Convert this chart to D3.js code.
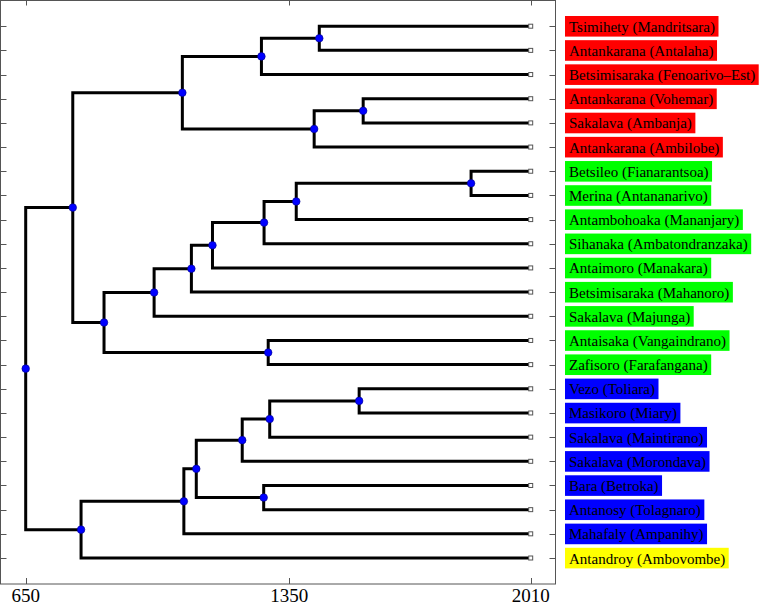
<!DOCTYPE html>
<html>
<head>
<meta charset="utf-8">
<script src="https://cdn.jsdelivr.net/npm/d3@7/dist/d3.min.js"></script>
<style>
  html, body { margin: 0; padding: 0; background: #fff; }
  svg { display: block; }
</style>
</head>
<body>
<div id="chart"></div>
<script>
// ---- DATA ----
const leaves = [
  "Tsimihety (Mandritsara)",
  "Antankarana (Antalaha)",
  "Betsimisaraka (Fenoarivo–Est)",
  "Antankarana (Vohemar)",
  "Sakalava (Ambanja)",
  "Antankarana (Ambilobe)",
  "Betsileo (Fianarantsoa)",
  "Merina (Antananarivo)",
  "Antambohoaka (Mananjary)",
  "Sihanaka (Ambatondranzaka)",
  "Antaimoro (Manakara)",
  "Betsimisaraka (Mahanoro)",
  "Sakalava (Majunga)",
  "Antaisaka (Vangaindrano)",
  "Zafisoro (Farafangana)",
  "Vezo (Toliara)",
  "Masikoro (Miary)",
  "Sakalava (Maintirano)",
  "Sakalava (Morondava)",
  "Bara (Betroka)",
  "Antanosy (Tolagnaro)",
  "Mahafaly (Ampanihy)",
  "Antandroy (Ambovombe)"
];
const leafGroups = ["N","N","N","N","N","N","C","C","C","C","C","C","C","C","C","S","S","S","S","S","S","S","X"];
const groupColors = { N: "#ff0000", C: "#00ff00", S: "#0000ff", X: "#ffff00" };
const leafYear = 2010;

// merges: [childA, childB, year]; leaves are 0..22, merged nodes numbered from 23 in order
const mergeA    = [0, 23, 3, 25, 24, 6, 28, 29, 30, 31, 32, 13, 33, 27, 15, 37, 38, 19, 39, 41, 42, 36];
const mergeB    = [1, 2, 4, 5, 26, 7, 8, 9, 10, 11, 12, 14, 34, 35, 16, 17, 18, 20, 40, 21, 22, 43];
const mergeYear = [1432, 1276, 1552, 1418, 1066, 1847, 1369, 1283, 1146, 1090, 991, 1294, 858, 775, 1541, 1298, 1225, 1282, 1103, 1070, 797, 650];

const xTicks = [650, 1350, 2010];

// ---- LAYOUT ----
const W = 760, H = 607;
const svg = d3.select("#chart").append("svg").attr("width", W).attr("height", H)
  .style("background", "#fff");

const frame = { left: 0.5, right: 555.5, top: 0.5, bottom: 584 };

const x = d3.scaleLinear().domain(xTicks).range([25.7, 289.3, 530.7]);
const y = d3.scalePoint().domain(d3.range(leaves.length)).range([26.2, 558]);

// node positions
const nodeX = [], nodeY = [];
leaves.forEach((d, i) => { nodeX[i] = x(leafYear); nodeY[i] = y(i); });
mergeA.forEach((a, k) => {
  const b = mergeB[k], id = leaves.length + k;
  nodeX[id] = x(mergeYear[k]);
  nodeY[id] = (nodeY[a] + nodeY[b]) / 2;
});

const axisColor = "#555";
const serif = "'Liberation Serif', 'Times New Roman', Times, serif";

// frame
svg.append("rect")
  .attr("x", frame.left).attr("y", frame.top)
  .attr("width", frame.right - frame.left).attr("height", frame.bottom - frame.top)
  .attr("fill", "none").attr("stroke", axisColor).attr("stroke-width", 1);

// x ticks top & bottom
const tickG = svg.append("g").attr("stroke", axisColor).attr("stroke-width", 1);
xTicks.forEach(t => {
  const xx = Math.round(x(t)) + 0.5;
  tickG.append("line").attr("x1", xx).attr("x2", xx).attr("y1", frame.top).attr("y2", frame.top + 5);
  tickG.append("line").attr("x1", xx).attr("x2", xx).attr("y1", frame.bottom).attr("y2", frame.bottom - 6);
});
// y ticks left & right
leaves.forEach((d, i) => {
  const yy = Math.round(y(i)) + 0.5;
  tickG.append("line").attr("x1", frame.left).attr("x2", frame.left + 6).attr("y1", yy).attr("y2", yy);
  tickG.append("line").attr("x1", frame.right).attr("x2", frame.right - 6).attr("y1", yy).attr("y2", yy);
});

// x tick labels
svg.append("g").selectAll("text").data(xTicks).join("text")
  .attr("x", d => x(d)).attr("y", 602)
  .attr("text-anchor", "middle")
  .style("font-family", serif)
  .attr("font-size", 19).attr("fill", "#000")
  .text(d => d);

// branches
const linkG = svg.append("g").attr("fill", "none").attr("stroke", "#000")
  .attr("stroke-width", 3).attr("stroke-linejoin", "miter").attr("stroke-linecap", "butt");
mergeA.forEach((a, k) => {
  const b = mergeB[k], id = leaves.length + k;
  const p = d3.path();
  p.moveTo(nodeX[a], nodeY[a]);
  p.lineTo(nodeX[id], nodeY[a]);
  p.lineTo(nodeX[id], nodeY[b]);
  p.lineTo(nodeX[b], nodeY[b]);
  linkG.append("path").attr("d", p.toString());
});

// leaf markers
svg.append("g").selectAll("rect").data(leaves).join("rect")
  .attr("x", (d, i) => nodeX[i] - 2).attr("y", (d, i) => nodeY[i] - 2)
  .attr("width", 4).attr("height", 4)
  .attr("fill", "#fff").attr("stroke", "#555").attr("stroke-width", 1);

// internal node dots
svg.append("g").selectAll("circle").data(mergeA).join("circle")
  .attr("cx", (d, k) => nodeX[leaves.length + k])
  .attr("cy", (d, k) => nodeY[leaves.length + k])
  .attr("r", 3.8)
  .attr("fill", "#0000ff").attr("stroke", "#00008b").attr("stroke-width", 0.6);

// labels with coloured boxes
const labG = svg.append("g");
leaves.forEach((name, i) => {
  const g = labG.append("g");
  const rect = g.append("rect");
  const t = g.append("text")
    .attr("x", 569).attr("y", y(i) + 5.5)
    .style("font-family", serif)
    .attr("font-size", 15).attr("fill", "#000")
    .text(name);
  const w = t.node().getComputedTextLength();
  rect.attr("x", 565).attr("y", y(i) - 10.2)
    .attr("width", w + 7.5).attr("height", 20.6)
    .attr("fill", groupColors[leafGroups[i]]);
});
</script>
</body>
</html>
